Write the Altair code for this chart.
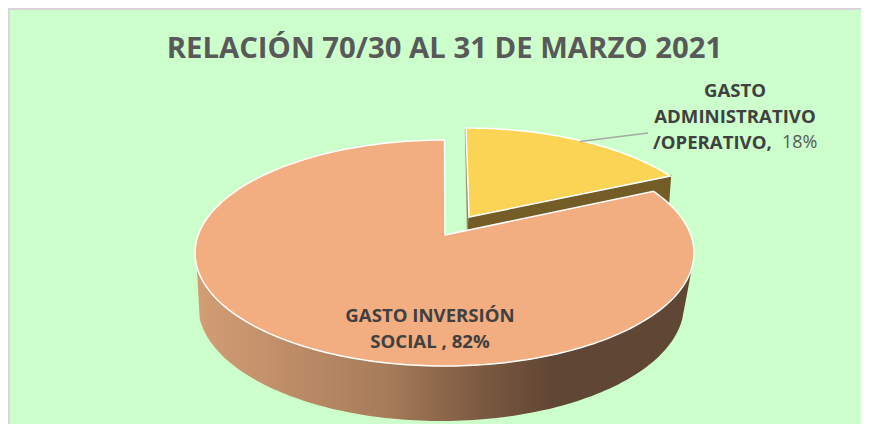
import numpy as np
import pandas as pd
import altair as alt

categories = ["GASTO INVERSIÓN SOCIAL", "GASTO ADMINISTRATIVO /OPERATIVO"]
shares = [82, 18]
slice_colors = ["#F2AE80", "#FBD355"]
wall_color = "#735C26"

# ellipse geometry of the 3D pie (image pixels)
CX, CY, RX, RY = 444.5, 253.0, 249.5, 113.0
BX, BY, BRX, BRY = 441.0, 305.0, 243.0, 116.0
EXPL = (21.5, -12.0)
APEX_BIG = (445.0, 235.0)
APEX_SMALL = (469.0, 217.0)
FORESHORTEN = 0.67   # tilt squeezes the angles near the right side
BIG_GAP = np.radians(2.0)


def end_phi():
    theta = 2 * np.pi * shares[1] / sum(shares)
    return np.arctan(np.tan(theta) * FORESHORTEN)


PHI = end_phi()
LEFT, TOP, W, H = 8, 8, 853, 416


def ell(cx, cy, rx, ry, phi):
    return cx + rx * np.sin(phi), cy - ry * np.cos(phi)


def frame(xs, ys):
    return pd.DataFrame({"x": xs, "y": ys, "i": np.arange(len(xs))})


xs_scale = alt.Scale(domain=[LEFT, LEFT + W], range=[0, W], nice=False, zero=False)
ys_scale = alt.Scale(domain=[TOP, TOP + H], range=[0, H], nice=False, zero=False)


def poly(df, **mark):
    return alt.Chart(df).mark_line(interpolate="linear-closed", **mark).encode(
        x=alt.X("x:Q", scale=xs_scale, axis=None),
        y=alt.Y("y:Q", scale=ys_scale, axis=None),
        order="i:Q",
    )


# walls
phi_front = np.linspace(np.pi / 2 + 0.12, 3 * np.pi / 2 - 0.12, 120)
tx, ty = ell(CX, CY, RX, RY, phi_front)
bx, by = ell(BX, BY, BRX, BRY, phi_front[::-1])
wall_big = frame(np.r_[tx, bx], np.r_[ty, by])

sx, sy = EXPL
ax2, ay2 = ell(CX + sx, CY + sy, RX, RY, PHI)
wall_small = frame(
    [APEX_SMALL[0], ax2, ax2 - 2, APEX_SMALL[0]],
    [APEX_SMALL[1], ay2, ay2 + 27, APEX_SMALL[1] + 27],
)
wall_edge = frame(
    [CX + sx - 0.8, APEX_SMALL[0] - 2, APEX_SMALL[0] - 2, APEX_SMALL[0], CX + sx],
    [CY + sy - RY + 1, APEX_SMALL[1], APEX_SMALL[1] + 13, APEX_SMALL[1], CY + sy - RY + 1],
)

# top faces
phi_big = np.linspace(PHI + BIG_GAP, 2 * np.pi, 240)
hx, hy = ell(CX, CY, RX, RY, phi_big)
top_big = frame(np.r_[APEX_BIG[0], hx], np.r_[APEX_BIG[1], hy])
phi_small = np.linspace(0, PHI, 60)
gx, gy = ell(CX + sx, CY + sy, RX, RY, phi_small)
top_small = frame(np.r_[APEX_SMALL[0], gx], np.r_[APEX_SMALL[1], gy])

gradient = alt.Gradient(
    gradient="linear", x1=0, x2=1, y1=0, y2=0,
    stops=[
        alt.GradientStop(color="#D39D75", offset=0),
        alt.GradientStop(color="#A77C5A", offset=0.38),
        alt.GradientStop(color="#7A5840", offset=0.58),
        alt.GradientStop(color="#604634", offset=0.72),
        alt.GradientStop(color="#604634", offset=1),
    ],
)


def label(text, x, y, weight="bold", align="center", size=18.6, color="#404040"):
    return alt.Chart(pd.DataFrame({"t": [text]})).mark_text(
        font="Open Sans", fontSize=size, fontWeight=weight, color=color, align=align, baseline="middle"
    ).encode(
        x=alt.value(x - LEFT), y=alt.value(y - TOP), text="t:N"
    )


def rule(x1, y1, x2, y2, color, width):
    return alt.Chart(pd.DataFrame({"a": [0]})).mark_rule(color=color, strokeWidth=width).encode(
        x=alt.value(x1 - LEFT), x2=alt.value(x2 - LEFT), y=alt.value(y1 - TOP), y2=alt.value(y2 - TOP)
    )


chart = alt.layer(
    rule(9, 8, 9, 424, "#D9D4D9", 2),
    rule(8, 9, 861, 9, "#D9D4D9", 2),
    label("RELACIÓN 70/30 AL 31 DE MARZO 2021", 444.5, 49, size=29.3, color="#595959"),
    poly(wall_big, fill=gradient, stroke=None),
    poly(wall_small, fill=wall_color, stroke=wall_color),
    poly(wall_edge, fill="#8A8460", stroke="#8A8460", strokeWidth=0.5),
    poly(top_small, fill=slice_colors[1], stroke="#FFFFFF", strokeWidth=1.5),
    poly(top_big, fill=slice_colors[0], stroke="#FFFFFF", strokeWidth=1.5),
    rule(580, 141.5, 648, 133, "#A6A6A6", 1.5),
    label("GASTO INVERSIÓN", 430, 316),
    label("SOCIAL , 82%", 430, 342),
    label("GASTO", 735, 90.5),
    label("ADMINISTRATIVO", 735, 116.5),
    label("/OPERATIVO,", 653, 142.5, align="left"),
    label("18%", 782, 142.5, weight="normal", align="left", size=18, color="#595959"),
).properties(
    width=W,
    height=H,
    padding=0,
    autosize="none",
    background="#CCFFCC",
).configure_view(stroke=None)

chart.save("out.html", embed_options={"renderer": "svg", "actions": False})
